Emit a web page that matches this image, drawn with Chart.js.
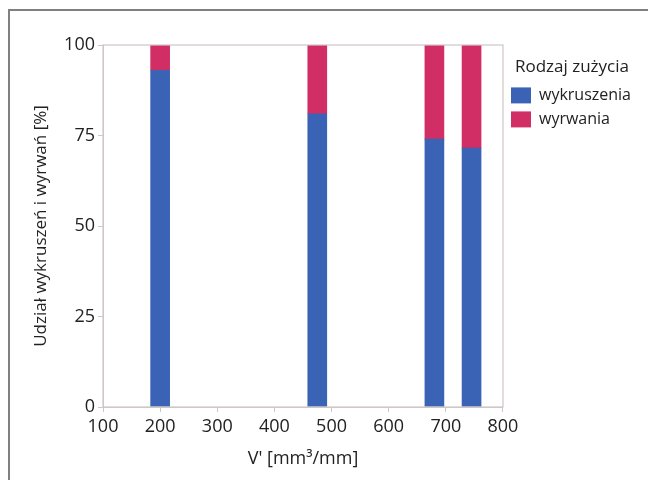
<!DOCTYPE html>
<html>
<head>
<meta charset="utf-8">
<script src="https://cdn.jsdelivr.net/npm/chart.js@4/dist/chart.umd.min.js"></script>
<style>
  html, body { margin: 0; padding: 0; background: #fff; }
  #wrap { position: relative; width: 648px; height: 483px; }
  #frame { position: absolute; left: 8px; top: 9px; width: 640px; height: 471px;
           border-top: 2px solid #808080; border-left: 2px solid #808080; box-sizing: border-box; pointer-events: none; }
</style>
</head>
<body>
<div id="wrap">
  <canvas id="c" width="648" height="483"></canvas>
  <div id="frame"></div>
</div>
<script>
const volumes = [200, 475, 680, 745];
const wykruszenia = [93, 81, 74, 71.5];
const wyrwania = [7, 19, 26, 28.5];
const seriesNames = ['wykruszenia', 'wyrwania'];
const xTicks = [100, 200, 300, 400, 500, 600, 700, 800];
const yTicks = [0, 25, 50, 75, 100];

const FONT = '"Open Sans", "Noto Sans", sans-serif';
const axisColor = '#cfc6c6';

const frameBox = {
  id: 'frameBox',
  afterDraw(chart) {
    const a = chart.chartArea, ctx = chart.ctx;
    ctx.save();
    ctx.strokeStyle = axisColor;
    ctx.lineWidth = 1.2;
    ctx.strokeRect(a.left, a.top, a.right - a.left, a.bottom - a.top);
    ctx.restore();
  }
};

new Chart(document.getElementById('c'), {
  type: 'bar',
  data: {
    datasets: [
      { label: seriesNames[0], data: volumes.map((v, i) => ({ x: v, y: wykruszenia[i] })),
        backgroundColor: '#3a63b5', barThickness: 19 },
      { label: seriesNames[1], data: volumes.map((v, i) => ({ x: v, y: wyrwania[i] })),
        backgroundColor: '#d12e66', barThickness: 19 }
    ]
  },
  options: {
    responsive: false,
    animation: false,
    layout: { padding: { top: 45, right: 7, left: 0, bottom: 0 } },
    plugins: {
      tooltip: { enabled: false },
      legend: {
        position: 'right',
        align: 'start',
        title: { display: true, text: 'Rodzaj zużycia', color: '#222',
                 font: { family: FONT, size: 17 }, padding: { top: 14, bottom: 0 } },
        labels: { boxWidth: 20, boxHeight: 16, padding: 8, color: '#222',
                  font: { family: FONT, size: 16 } }
      }
    },
    scales: {
      x: {
        type: 'linear', min: 100, max: 800, stacked: true, offset: false,
        afterBuildTicks: s => { s.ticks = xTicks.map(v => ({ value: v })); },
        afterFit: s => { s.height = 76; },
        ticks: { color: '#222', font: { family: FONT, size: 18 }, padding: 4 },
        grid: { offset: false, drawOnChartArea: false, drawTicks: true, tickLength: 5, color: axisColor },
        border: { display: true, color: axisColor },
        title: { display: true, text: "V' [mm³/mm]", color: '#222',
                 font: { family: FONT, size: 18 }, padding: { top: 0, bottom: 13 } }
      },
      y: {
        type: 'linear', min: 0, max: 100, stacked: true,
        afterBuildTicks: s => { s.ticks = yTicks.map(v => ({ value: v })); },
        afterFit: s => { s.width = 103; },
        ticks: { color: '#222', font: { family: FONT, size: 18 }, padding: 3 },
        grid: { drawOnChartArea: false, drawTicks: true, tickLength: 5, color: axisColor },
        border: { display: true, color: axisColor },
        title: { display: true, text: 'Udział wykruszeń i wyrwań [%]', color: '#222',
                 font: { family: FONT, size: 17 }, padding: { top: 31, bottom: 0 } }
      }
    }
  },
  plugins: [frameBox]
});
</script>
</body>
</html>
